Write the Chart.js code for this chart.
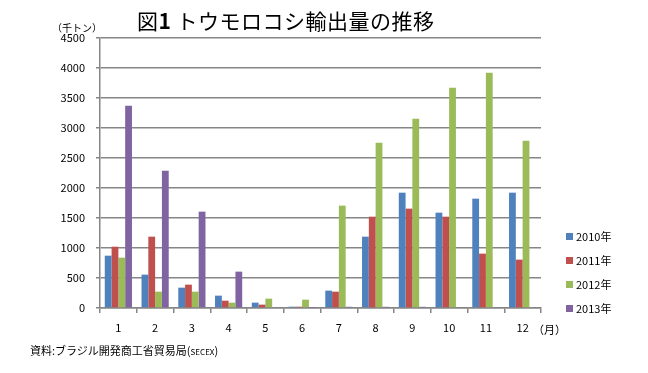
<!DOCTYPE html>
<html>
<head>
<meta charset="utf-8">
<script src="https://cdn.jsdelivr.net/npm/chart.js@4/dist/chart.umd.min.js"></script>
<style>
  body { margin: 0; background: #fff; font-family: "Noto Sans CJK JP", sans-serif; }
  #wrap { position: relative; width: 648px; height: 373px; }
  #title { position: absolute; left: 137px; top: 5px; font-size: 21px; color: #000; white-space: nowrap; letter-spacing: 0.5px; }
  #title b { font-weight: bold; }
  #unit { position: absolute; left: 52px; top: 20px; font-size: 10px; color: #000; }
  #month { position: absolute; left: 533px; top: 321px; font-size: 11px; color: #000; }
  #source { position: absolute; left: 30px; top: 342px; font-size: 11px; color: #000; white-space: nowrap; }
  #source small { font-size: 8px; }
  #legend { position: absolute; left: 566px; top: 227px; font-size: 11px; }
  #legend div { height: 24px; line-height: 18px; white-space: nowrap; }
  #legend span { display: inline-block; width: 7px; height: 7px; margin-right: 3px; vertical-align: 1px; }
</style>
</head>
<body>
<div id="wrap">
  <canvas id="chart" width="648" height="373"></canvas>
  <div id="title">図<b>1</b> トウモロコシ輸出量の推移</div>
  <div id="unit">（千トン）</div>
  <div id="month">（月）</div>
  <div id="source">資料:ブラジル開発商工省貿易局(<small>SECEX</small>)</div>
  <div id="legend"></div>
</div>
<script>
// monthly corn exports, thousand tonnes
const months = ["1", "2", "3", "4", "5", "6", "7", "8", "9", "10", "11", "12"];
const y2010 = [872, 556, 339, 206, 89, 22, 289, 1189, 1922, 1589, 1822, 1922];
const y2011 = [1022, 1189, 389, 122, 56, 22, 272, 1522, 1656, 1522, 906, 806];
const y2012 = [839, 272, 272, 89, 156, 139, 1706, 2756, 3156, 3672, 3922, 2789];
const y2013 = [3372, 2289, 1606, 606, 0, 5, 20, 20, 20, 0, 0, 0];
const seriesNames = ["2010年", "2011年", "2012年", "2013年"];
const colors = ["#4F81BD", "#C0504D", "#9BBB59", "#8064A2"];

const allSeries = [y2010, y2011, y2012, y2013];

// legend built from the same names/colors
const legendBox = document.getElementById("legend");
seriesNames.forEach((name, i) => {
    const row = document.createElement("div");
    row.innerHTML = `<span style="background:${colors[i]}"></span>${name}`;
    legendBox.appendChild(row);
});

const ctx = document.getElementById("chart").getContext("2d");
new Chart(ctx, {
    type: "bar",
    data: {
        labels: months,
        datasets: allSeries.map((vals, i) => ({
            label: seriesNames[i],
            data: vals,
            backgroundColor: colors[i],
            borderWidth: 0,
            categoryPercentage: 0.74,
            barPercentage: 1.0
        }))
    },
    options: {
        responsive: false,
        animation: false,
        layout: {
            padding: { left: 0, right: 107, top: 38, bottom: 30 }
        },
        plugins: {
            legend: { display: false },
            tooltip: { enabled: false }
        },
        scales: {
            x: {
                afterFit: scale => { scale.height = 35; },
                grid: {
                    offset: true,
                    drawOnChartArea: false,
                    color: "#868686",
                    lineWidth: 1.5,
                    tickLength: 5
                },
                border: { color: "#868686", width: 1.5 },
                ticks: {
                    color: "#000",
                    padding: 8,
                    font: { family: "Noto Sans CJK JP", size: 11 }
                }
            },
            y: {
                min: 0,
                max: 4500,
                afterFit: scale => { scale.width = 100; },
                ticks: {
                    stepSize: 500,
                    color: "#000",
                    padding: 11,
                    callback: v => String(v),  // no thousands separator
                    font: { family: "Noto Sans CJK JP", size: 11 }
                },
                grid: {
                    color: "#868686",
                    lineWidth: 1.5,
                    tickLength: 4
                },
                border: { color: "#868686", width: 1.5 }
            }
        }
    }
});
</script>
</body>
</html>
